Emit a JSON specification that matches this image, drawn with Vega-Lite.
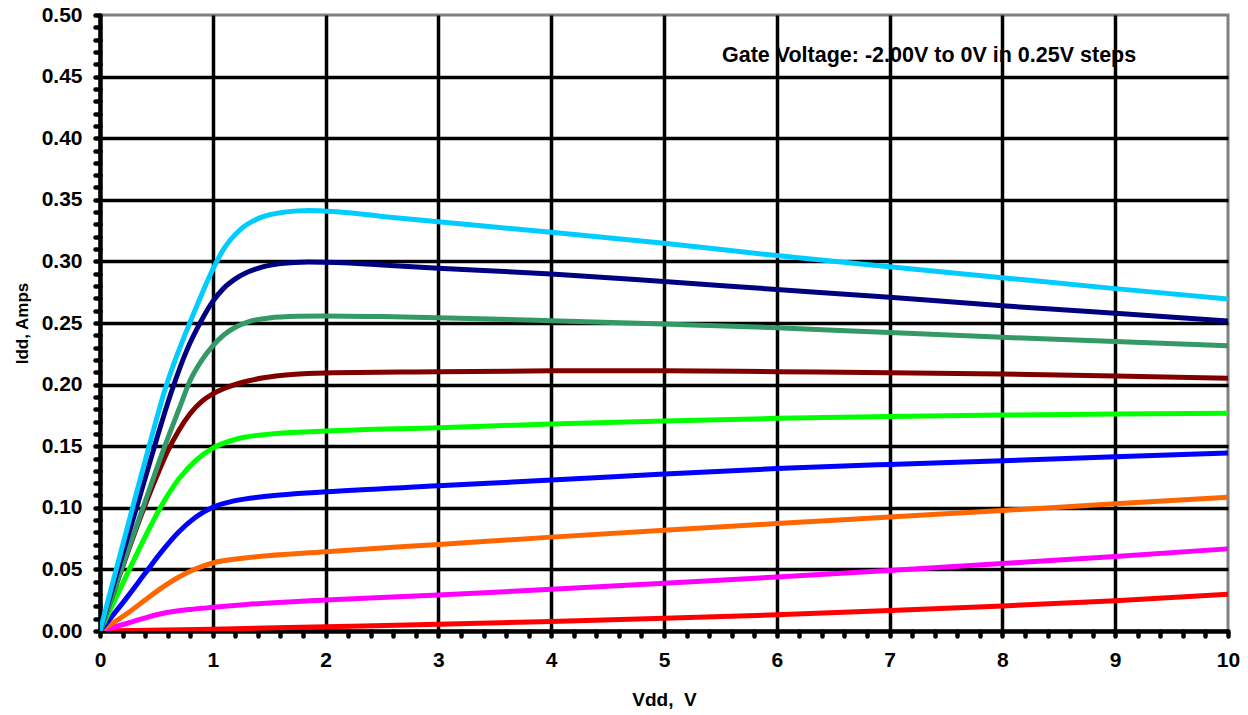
{
  "$schema": "https://vega.github.io/schema/vega-lite/v6.json",
  "width": 1128,
  "height": 616,
  "autosize": "none",
  "padding": {"left": 100, "top": 15, "right": 20, "bottom": 84},
  "background": "white",
  "config": {
    "view": {"stroke": "#808080", "strokeWidth": 3},
    "font": "Liberation Sans"
  },
  "resolve": {"axis": {"x": "independent", "y": "independent"}},
  "datasets": {
    "curves": [
      {"gate": "-2.00V", "vdd": 0, "idd": 0},
      {"gate": "-2.00V", "vdd": 1, "idd": 0.0015},
      {"gate": "-2.00V", "vdd": 2, "idd": 0.0035},
      {"gate": "-2.00V", "vdd": 3, "idd": 0.0055},
      {"gate": "-2.00V", "vdd": 4, "idd": 0.0078},
      {"gate": "-2.00V", "vdd": 5, "idd": 0.0103},
      {"gate": "-2.00V", "vdd": 6, "idd": 0.0132},
      {"gate": "-2.00V", "vdd": 7, "idd": 0.0166},
      {"gate": "-2.00V", "vdd": 8, "idd": 0.0203},
      {"gate": "-2.00V", "vdd": 9, "idd": 0.0246},
      {"gate": "-2.00V", "vdd": 10, "idd": 0.0298},

      {"gate": "-1.75V", "vdd": 0, "idd": 0},
      {"gate": "-1.75V", "vdd": 0.25, "idd": 0.0065},
      {"gate": "-1.75V", "vdd": 0.55, "idd": 0.0142},
      {"gate": "-1.75V", "vdd": 0.8, "idd": 0.0175},
      {"gate": "-1.75V", "vdd": 1.0, "idd": 0.0192},
      {"gate": "-1.75V", "vdd": 1.3, "idd": 0.0215},
      {"gate": "-1.75V", "vdd": 2, "idd": 0.0252},
      {"gate": "-1.75V", "vdd": 3, "idd": 0.0293},
      {"gate": "-1.75V", "vdd": 4, "idd": 0.0338},
      {"gate": "-1.75V", "vdd": 5, "idd": 0.0388},
      {"gate": "-1.75V", "vdd": 6, "idd": 0.0438},
      {"gate": "-1.75V", "vdd": 7, "idd": 0.0492},
      {"gate": "-1.75V", "vdd": 8, "idd": 0.0548},
      {"gate": "-1.75V", "vdd": 9, "idd": 0.0605},
      {"gate": "-1.75V", "vdd": 10, "idd": 0.0667},

      {"gate": "-1.50V", "vdd": 0, "idd": 0},
      {"gate": "-1.50V", "vdd": 0.25, "idd": 0.0148},
      {"gate": "-1.50V", "vdd": 0.4, "idd": 0.0252},
      {"gate": "-1.50V", "vdd": 0.55, "idd": 0.0352},
      {"gate": "-1.50V", "vdd": 0.7, "idd": 0.0438},
      {"gate": "-1.50V", "vdd": 0.85, "idd": 0.0505},
      {"gate": "-1.50V", "vdd": 1.0, "idd": 0.0552},
      {"gate": "-1.50V", "vdd": 1.3, "idd": 0.0594},
      {"gate": "-1.50V", "vdd": 2, "idd": 0.0644},
      {"gate": "-1.50V", "vdd": 3, "idd": 0.0703},
      {"gate": "-1.50V", "vdd": 4, "idd": 0.0762},
      {"gate": "-1.50V", "vdd": 5, "idd": 0.0818},
      {"gate": "-1.50V", "vdd": 6, "idd": 0.0872},
      {"gate": "-1.50V", "vdd": 7, "idd": 0.0925},
      {"gate": "-1.50V", "vdd": 8, "idd": 0.0978},
      {"gate": "-1.50V", "vdd": 9, "idd": 0.1032},
      {"gate": "-1.50V", "vdd": 10, "idd": 0.1085},

      {"gate": "-1.25V", "vdd": 0, "idd": 0},
      {"gate": "-1.25V", "vdd": 0.25, "idd": 0.0285},
      {"gate": "-1.25V", "vdd": 0.4, "idd": 0.0468},
      {"gate": "-1.25V", "vdd": 0.55, "idd": 0.0648},
      {"gate": "-1.25V", "vdd": 0.7, "idd": 0.0805},
      {"gate": "-1.25V", "vdd": 0.85, "idd": 0.0925},
      {"gate": "-1.25V", "vdd": 1.0, "idd": 0.1005},
      {"gate": "-1.25V", "vdd": 1.2, "idd": 0.1058},
      {"gate": "-1.25V", "vdd": 1.5, "idd": 0.1096},
      {"gate": "-1.25V", "vdd": 2, "idd": 0.113},
      {"gate": "-1.25V", "vdd": 3, "idd": 0.1178},
      {"gate": "-1.25V", "vdd": 4, "idd": 0.1225},
      {"gate": "-1.25V", "vdd": 5, "idd": 0.1274},
      {"gate": "-1.25V", "vdd": 6, "idd": 0.1318},
      {"gate": "-1.25V", "vdd": 7, "idd": 0.1352},
      {"gate": "-1.25V", "vdd": 8, "idd": 0.1382},
      {"gate": "-1.25V", "vdd": 9, "idd": 0.1415},
      {"gate": "-1.25V", "vdd": 10, "idd": 0.1445},

      {"gate": "-1.00V", "vdd": 0, "idd": 0},
      {"gate": "-1.00V", "vdd": 0.25, "idd": 0.048},
      {"gate": "-1.00V", "vdd": 0.4, "idd": 0.0765},
      {"gate": "-1.00V", "vdd": 0.55, "idd": 0.1025},
      {"gate": "-1.00V", "vdd": 0.7, "idd": 0.1235},
      {"gate": "-1.00V", "vdd": 0.85, "idd": 0.1385},
      {"gate": "-1.00V", "vdd": 1.0, "idd": 0.1485},
      {"gate": "-1.00V", "vdd": 1.2, "idd": 0.1555},
      {"gate": "-1.00V", "vdd": 1.5, "idd": 0.1598},
      {"gate": "-1.00V", "vdd": 2, "idd": 0.1623},
      {"gate": "-1.00V", "vdd": 3, "idd": 0.165},
      {"gate": "-1.00V", "vdd": 4, "idd": 0.168},
      {"gate": "-1.00V", "vdd": 5, "idd": 0.1705},
      {"gate": "-1.00V", "vdd": 6, "idd": 0.1726},
      {"gate": "-1.00V", "vdd": 7, "idd": 0.1742},
      {"gate": "-1.00V", "vdd": 8, "idd": 0.1753},
      {"gate": "-1.00V", "vdd": 9, "idd": 0.1761},
      {"gate": "-1.00V", "vdd": 10, "idd": 0.1767},

      {"gate": "-0.75V", "vdd": 0, "idd": 0},
      {"gate": "-0.75V", "vdd": 0.2, "idd": 0.052},
      {"gate": "-0.75V", "vdd": 0.37, "idd": 0.095},
      {"gate": "-0.75V", "vdd": 0.5, "idd": 0.125},
      {"gate": "-0.75V", "vdd": 0.6, "idd": 0.146},
      {"gate": "-0.75V", "vdd": 0.7, "idd": 0.163},
      {"gate": "-0.75V", "vdd": 0.8, "idd": 0.1765},
      {"gate": "-0.75V", "vdd": 0.9, "idd": 0.1862},
      {"gate": "-0.75V", "vdd": 1.0, "idd": 0.1925},
      {"gate": "-0.75V", "vdd": 1.1, "idd": 0.1968},
      {"gate": "-0.75V", "vdd": 1.25, "idd": 0.2015},
      {"gate": "-0.75V", "vdd": 1.45, "idd": 0.2055},
      {"gate": "-0.75V", "vdd": 1.7, "idd": 0.2082},
      {"gate": "-0.75V", "vdd": 2, "idd": 0.2095},
      {"gate": "-0.75V", "vdd": 3, "idd": 0.2104},
      {"gate": "-0.75V", "vdd": 4, "idd": 0.2112},
      {"gate": "-0.75V", "vdd": 5, "idd": 0.2113},
      {"gate": "-0.75V", "vdd": 6, "idd": 0.2105},
      {"gate": "-0.75V", "vdd": 7, "idd": 0.2097},
      {"gate": "-0.75V", "vdd": 8, "idd": 0.2086},
      {"gate": "-0.75V", "vdd": 9, "idd": 0.207},
      {"gate": "-0.75V", "vdd": 10, "idd": 0.2051},

      {"gate": "-0.50V", "vdd": 0, "idd": 0},
      {"gate": "-0.50V", "vdd": 0.2, "idd": 0.053},
      {"gate": "-0.50V", "vdd": 0.4, "idd": 0.105},
      {"gate": "-0.50V", "vdd": 0.55, "idd": 0.144},
      {"gate": "-0.50V", "vdd": 0.7, "idd": 0.18},
      {"gate": "-0.50V", "vdd": 0.8, "idd": 0.2035},
      {"gate": "-0.50V", "vdd": 0.9, "idd": 0.2195},
      {"gate": "-0.50V", "vdd": 1.0, "idd": 0.2315},
      {"gate": "-0.50V", "vdd": 1.1, "idd": 0.2405},
      {"gate": "-0.50V", "vdd": 1.2, "idd": 0.2465},
      {"gate": "-0.50V", "vdd": 1.32, "idd": 0.2512},
      {"gate": "-0.50V", "vdd": 1.5, "idd": 0.2541},
      {"gate": "-0.50V", "vdd": 1.75, "idd": 0.2554},
      {"gate": "-0.50V", "vdd": 2, "idd": 0.2557},
      {"gate": "-0.50V", "vdd": 2.5, "idd": 0.2552},
      {"gate": "-0.50V", "vdd": 3, "idd": 0.2543},
      {"gate": "-0.50V", "vdd": 4, "idd": 0.2519},
      {"gate": "-0.50V", "vdd": 5, "idd": 0.2492},
      {"gate": "-0.50V", "vdd": 6, "idd": 0.2462},
      {"gate": "-0.50V", "vdd": 7, "idd": 0.2422},
      {"gate": "-0.50V", "vdd": 8, "idd": 0.2384},
      {"gate": "-0.50V", "vdd": 9, "idd": 0.2349},
      {"gate": "-0.50V", "vdd": 10, "idd": 0.2316},

      {"gate": "-0.25V", "vdd": 0, "idd": 0},
      {"gate": "-0.25V", "vdd": 0.17, "idd": 0.053},
      {"gate": "-0.25V", "vdd": 0.33, "idd": 0.102},
      {"gate": "-0.25V", "vdd": 0.48, "idd": 0.149},
      {"gate": "-0.25V", "vdd": 0.64, "idd": 0.196},
      {"gate": "-0.25V", "vdd": 0.77, "idd": 0.228},
      {"gate": "-0.25V", "vdd": 0.89, "idd": 0.2505},
      {"gate": "-0.25V", "vdd": 1.0, "idd": 0.2675},
      {"gate": "-0.25V", "vdd": 1.1, "idd": 0.2785},
      {"gate": "-0.25V", "vdd": 1.2, "idd": 0.2858},
      {"gate": "-0.25V", "vdd": 1.4, "idd": 0.2944},
      {"gate": "-0.25V", "vdd": 1.6, "idd": 0.2982},
      {"gate": "-0.25V", "vdd": 1.85, "idd": 0.2996},
      {"gate": "-0.25V", "vdd": 2.1, "idd": 0.2992},
      {"gate": "-0.25V", "vdd": 2.5, "idd": 0.297},
      {"gate": "-0.25V", "vdd": 3, "idd": 0.2944},
      {"gate": "-0.25V", "vdd": 4, "idd": 0.2898},
      {"gate": "-0.25V", "vdd": 5, "idd": 0.2836},
      {"gate": "-0.25V", "vdd": 6, "idd": 0.2772},
      {"gate": "-0.25V", "vdd": 7, "idd": 0.2709},
      {"gate": "-0.25V", "vdd": 8, "idd": 0.264},
      {"gate": "-0.25V", "vdd": 9, "idd": 0.2579},
      {"gate": "-0.25V", "vdd": 10, "idd": 0.2516},

      {"gate": "0V", "vdd": 0, "idd": 0},
      {"gate": "0V", "vdd": 0.15, "idd": 0.052},
      {"gate": "0V", "vdd": 0.3, "idd": 0.104},
      {"gate": "0V", "vdd": 0.45, "idd": 0.155},
      {"gate": "0V", "vdd": 0.58, "idd": 0.197},
      {"gate": "0V", "vdd": 0.7, "idd": 0.228},
      {"gate": "0V", "vdd": 0.8, "idd": 0.251},
      {"gate": "0V", "vdd": 0.9, "idd": 0.273},
      {"gate": "0V", "vdd": 1.0, "idd": 0.2935},
      {"gate": "0V", "vdd": 1.1, "idd": 0.3105},
      {"gate": "0V", "vdd": 1.24, "idd": 0.3255},
      {"gate": "0V", "vdd": 1.42, "idd": 0.3355},
      {"gate": "0V", "vdd": 1.65, "idd": 0.3402},
      {"gate": "0V", "vdd": 1.85, "idd": 0.3414},
      {"gate": "0V", "vdd": 2.1, "idd": 0.3403},
      {"gate": "0V", "vdd": 2.5, "idd": 0.3365},
      {"gate": "0V", "vdd": 3, "idd": 0.3322},
      {"gate": "0V", "vdd": 4, "idd": 0.3236},
      {"gate": "0V", "vdd": 5, "idd": 0.3147},
      {"gate": "0V", "vdd": 6, "idd": 0.3047},
      {"gate": "0V", "vdd": 7, "idd": 0.2957},
      {"gate": "0V", "vdd": 8, "idd": 0.2868},
      {"gate": "0V", "vdd": 9, "idd": 0.2779},
      {"gate": "0V", "vdd": 10, "idd": 0.2695}
    ],
    "note": [
      {"text": "Gate Voltage: -2.00V to 0V in 0.25V steps", "vdd": 7.35, "idd": 0.4667}
    ]
  },
  "layer": [
    {
      "data": {"name": "curves"},
      "mark": {"type": "line", "strokeWidth": 5, "interpolate": "monotone", "strokeCap": "round", "strokeJoin": "round", "clip": true},
      "encoding": {
        "x": {
          "field": "vdd",
          "type": "quantitative",
          "scale": {"domain": [0, 10], "nice": false, "zero": false},
          "axis": {
            "title": "Vdd,\u00a0 V",
            "titleFont": "Liberation Sans",
            "titleFontSize": 19,
            "titleFontWeight": "bold",
            "titleColor": "black",
            "titlePadding": 20,
            "values": [0,0.2,0.4,0.6,0.8,1,1.2,1.4,1.6,1.8,2,2.2,2.4,2.6,2.8,3,3.2,3.4,3.6,3.8,4,4.2,4.4,4.6,4.8,5,5.2,5.4,5.6,5.8,6,6.2,6.4,6.6,6.8,7,7.2,7.4,7.6,7.8,8,8.2,8.4,8.6,8.8,9,9.2,9.4,9.6,9.8,10],
            "labelExpr": "abs(datum.value - round(datum.value)) < 0.001 ? format(datum.value, 'd') : ''",
            "labelOverlap": false,
            "labelFlush": false,
            "labelFont": "Liberation Sans",
            "labelFontSize": 21,
            "labelFontWeight": "bold",
            "labelColor": "black",
            "labelPadding": 13,
            "tickSize": 5,
            "tickWidth": 4.5,
            "tickCap": "round",
            "tickColor": "black",
            "domainColor": "black",
            "domainWidth": 4.5,
            "grid": true,
            "gridWidth": 3.5,
            "gridColor": "black",
            "gridOpacity": {"condition": {"test": "abs(datum.value - round(datum.value)) < 0.001 && datum.value > 0.01 && datum.value < 9.99", "value": 1}, "value": 0}
          }
        },
        "y": {
          "field": "idd",
          "type": "quantitative",
          "scale": {"domain": [0, 0.5], "nice": false},
          "axis": {
            "title": "Idd, Amps",
            "titleFont": "Liberation Sans",
            "titleFontSize": 17,
            "titleFontWeight": "bold",
            "titleColor": "black",
            "titlePadding": 10,
            "values": [0,0.01,0.02,0.03,0.04,0.05,0.06,0.07,0.08,0.09,0.1,0.11,0.12,0.13,0.14,0.15,0.16,0.17,0.18,0.19,0.2,0.21,0.22,0.23,0.24,0.25,0.26,0.27,0.28,0.29,0.3,0.31,0.32,0.33,0.34,0.35,0.36,0.37,0.38,0.39,0.4,0.41,0.42,0.43,0.44,0.45,0.46,0.47,0.48,0.49,0.5],
            "labelExpr": "abs(datum.value * 20 - round(datum.value * 20)) < 0.001 ? format(datum.value, '.2f') : ''",
            "labelOverlap": false,
            "labelFlush": false,
            "labelFont": "Liberation Sans",
            "labelFontSize": 21,
            "labelFontWeight": "bold",
            "labelColor": "black",
            "labelPadding": 13,
            "tickSize": 5,
            "tickWidth": 4.5,
            "tickCap": "round",
            "tickColor": "black",
            "domainColor": "black",
            "domainWidth": 4.5,
            "grid": true,
            "gridWidth": 3.5,
            "gridColor": "black",
            "gridOpacity": {"condition": {"test": "abs(datum.value * 20 - round(datum.value * 20)) < 0.001 && datum.value > 0.001 && datum.value < 0.499", "value": 1}, "value": 0}
          }
        },
        "color": {
          "field": "gate",
          "type": "nominal",
          "scale": {
            "domain": ["-2.00V", "-1.75V", "-1.50V", "-1.25V", "-1.00V", "-0.75V", "-0.50V", "-0.25V", "0V"],
            "range": ["#FF0000", "#FF00FF", "#FF6600", "#0000FF", "#00FF00", "#800000", "#339966", "#000080", "#00CCFF"]
          },
          "legend": null
        }
      }
    },
    {
      "data": {"name": "note"},
      "mark": {"type": "text", "font": "Liberation Sans", "fontSize": 21.5, "fontWeight": "bold", "color": "black", "align": "center", "baseline": "middle"},
      "encoding": {
        "x": {"field": "vdd", "type": "quantitative", "axis": null},
        "y": {"field": "idd", "type": "quantitative", "axis": null},
        "text": {"field": "text"}
      }
    }
  ]
}
